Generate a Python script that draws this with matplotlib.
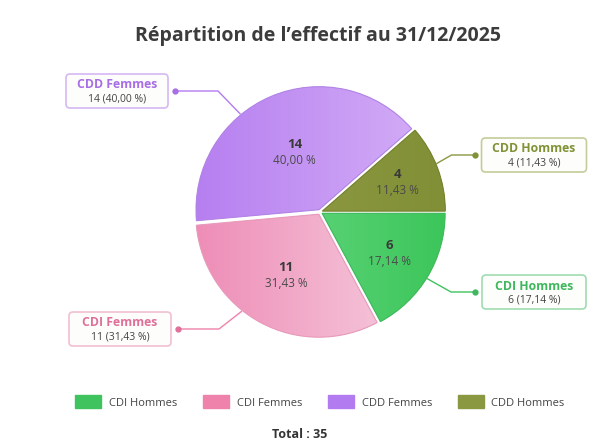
import numpy as np
import matplotlib
matplotlib.use("Agg")
import matplotlib.pyplot as plt
from matplotlib.patches import FancyBboxPatch, Patch, Wedge
from matplotlib.colors import to_rgb

plt.rcParams['font.family'] = ['Open Sans', 'DejaVu Sans']

categories = ["CDI Hommes", "CDI Femmes", "CDD Femmes", "CDD Hommes"]
values = [6, 11, 14, 4]
percents = ["17,14 %", "31,43 %", "40,00 %", "11,43 %"]
# gradient colours of each slice (left side, right side)
grad_left = ["#72dc8c", "#ee8db7", "#b67ff0", "#939f48"]
grad_right = ["#3cc65a", "#f7d3e2", "#d5b0f7", "#818f36"]
outline_colors = ["#3fb85c", "#e89bbb", "#b284e6", "#76822f"]
legend_colors = ["#3ec35e", "#ee82aa", "#b37bf0", "#8a9842"]
label_colors = ["#3fb75e", "#e0709a", "#a76ee6", "#7f9236"]
edge_colors = ["#9fdcb0", "#f2bfd2", "#d6b8f3", "#c5cc9a"]

# layout of the callouts: box centres (pixels, origin bottom-left), widths,
# and a nudge (degrees) of where the leader line meets the pie
box_xy = [(534, 149), (120, 112), (117, 350), (534, 286)]
box_w = [104, 102, 102, 105]
leader_nudge = [-1, -10, 16, 2]
elbow_len = [24, 41, 43, 23]

W, H = 597, 441
fig = plt.figure(figsize=(W / 100, H / 100), dpi=100)
ax = fig.add_axes([0, 0, 1, 1])

cx, cy, r = 320, 229, 123
wedges, _ = ax.pie(values, colors=grad_left, startangle=0, counterclock=False,
                   center=(cx, cy), radius=r, frame=True,
                   explode=[2.5] * len(values),
                   wedgeprops=dict(edgecolor="none", linewidth=0))
ax.set_xlim(0, W)
ax.set_ylim(0, H)
ax.set_aspect("equal")
ax.axis("off")

for i, w in enumerate(wedges):
    # horizontal gradient fill clipped to the slice
    c1, c2 = np.array(to_rgb(grad_left[i])), np.array(to_rgb(grad_right[i]))
    t = np.linspace(0, 1, 256)[None, :, None]
    img = c1 + (c2 - c1) * t
    img = np.repeat(img, 2, axis=0)
    wx, wy = w.center
    im = ax.imshow(img, extent=(wx - w.r, wx + w.r, wy - w.r, wy + w.r),
                   origin="lower", aspect="auto", zorder=2, interpolation="bilinear")
    im.set_clip_path(w)
    ax.add_patch(Wedge(w.center, w.r, w.theta1, w.theta2, fill=False,
                       ec=outline_colors[i], lw=0.8, zorder=3))

    # labels at the centroid of the slice
    half = np.deg2rad(abs(w.theta2 - w.theta1) / 2)
    mid = np.deg2rad((w.theta1 + w.theta2) / 2)
    dist = 2 * r * np.sin(half) / (3 * half)
    lx = wx + dist * np.cos(mid)
    ly = wy + dist * np.sin(mid)
    ax.text(lx, ly + 8, str(values[i]), ha="center", va="center", zorder=4,
            fontsize=9.5, fontweight="bold", color="#3a3a3a")
    ax.text(lx, ly - 8, percents[i], ha="center", va="center", zorder=4,
            fontsize=8.5, color="#4a4a4a")

    # leader line: edge of slice -> elbow -> dot beside the box
    bx, by = box_xy[i]
    ang = mid + np.deg2rad(leader_nudge[i])
    px = cx + 1.03 * r * np.cos(ang)
    py = cy + 1.03 * r * np.sin(ang)
    side = 1 if np.cos(mid) > 0 else -1
    dot_x = bx - side * (box_w[i] / 2 + 7)
    ex = dot_x - side * elbow_len[i]
    ax.plot([px, ex, dot_x], [py, by, by], color=legend_colors[i], lw=1)
    ax.plot(dot_x, by, "o", color=label_colors[i], ms=3.5)

    box = FancyBboxPatch((bx - box_w[i] / 2, by - 17), box_w[i], 34,
                         boxstyle="round,pad=0,rounding_size=4",
                         fc="#fdfdfb", ec=edge_colors[i], lw=1.2)
    ax.add_patch(box)
    ax.text(bx, by + 6, categories[i], ha="center", va="center",
            fontsize=8.8, fontweight="bold", color=label_colors[i])
    ax.text(bx, by - 8, f"{values[i]} ({percents[i].replace(' %', ' %)')}",
            ha="center", va="center", fontsize=7.5, color="#444444")

ax.text(318, 405, "Répartition de l’effectif au 31/12/2025", ha="center",
        va="center", fontsize=14, fontweight="bold", color="#3c3c3c")

handles = [Patch(facecolor=c, edgecolor=c, label=l)
           for c, l in zip(legend_colors, categories)]
fig.legend(handles=handles, loc="center", bbox_to_anchor=(320 / W, 1 - 402 / H),
           ncol=4, frameon=False, fontsize=8, handlelength=2.35, handleheight=1.4,
           handletextpad=0.7, columnspacing=2.3, labelcolor="#444444")

total = sum(values)
ax.text(300, 7, f"Total : {total}", ha="center", va="center",
        fontsize=9, fontweight="bold", color="#333333")

fig.savefig("out.png", dpi=100, facecolor="white")
